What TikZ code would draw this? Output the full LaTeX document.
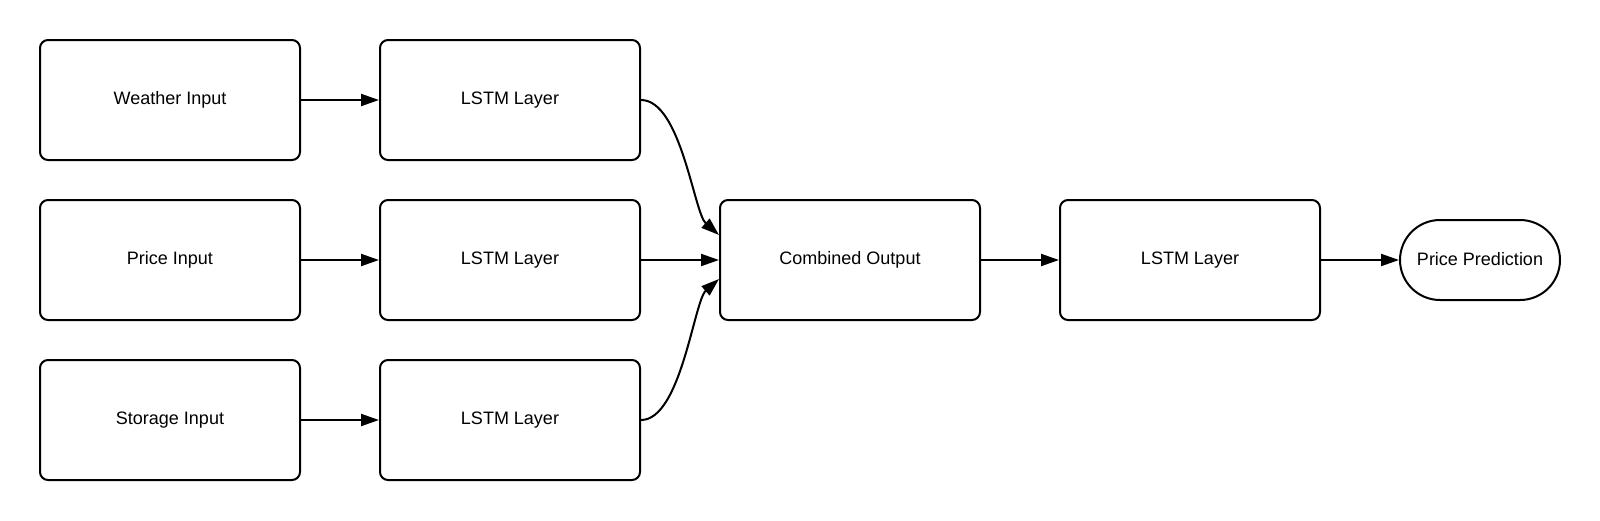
\documentclass[tikz,border=0pt]{standalone}
\usepackage{fontspec}
\setmainfont{Liberation Sans}
\usetikzlibrary{arrows.meta}
\begin{document}
\begin{tikzpicture}[x=1pt,y=-1pt,
  box/.style={draw=black,line width=2pt,rounded corners=8pt,minimum width=260pt,minimum height=120pt,inner sep=0pt,font=\fontsize{18pt}{22pt}\selectfont},
  term/.style={draw=black,line width=2pt,rounded corners=40pt,minimum width=160pt,minimum height=80pt,inner sep=0pt,font=\fontsize{18pt}{22pt}\selectfont},
  conn/.style={line width=2pt,-{Triangle[length=18pt,width=12pt]}}]
\useasboundingbox (0,0) rectangle (1600,520);
\node[box] (w) at (170,100) {Weather Input};
\node[box] (p) at (170,260) {Price Input};
\node[box] (s) at (170,420) {Storage Input};
\node[box] (l1) at (510,100) {LSTM Layer};
\node[box] (l2) at (510,260) {LSTM Layer};
\node[box] (l3) at (510,420) {LSTM Layer};
\node[box] (c) at (850,260) {Combined Output};
\node[box] (l4) at (1190,260) {LSTM Layer};
\node[term] (pp) at (1480,260) {\raisebox{3pt}{Price Prediction}};
\draw[conn] (w) -- (l1);
\draw[conn] (p) -- (l2);
\draw[conn] (s) -- (l3);
\draw[conn] (l2) -- (c);
\draw[conn] (l1.east) .. controls +(40,0) and +(-25,-22) .. ([yshift=25pt]c.west);
\draw[conn] (l3.east) .. controls +(40,0) and +(-25,22) .. ([yshift=-19pt]c.west);
\draw[conn] (c) -- (l4);
\draw[conn] (l4) -- (pp);
\end{tikzpicture}
\end{document}
